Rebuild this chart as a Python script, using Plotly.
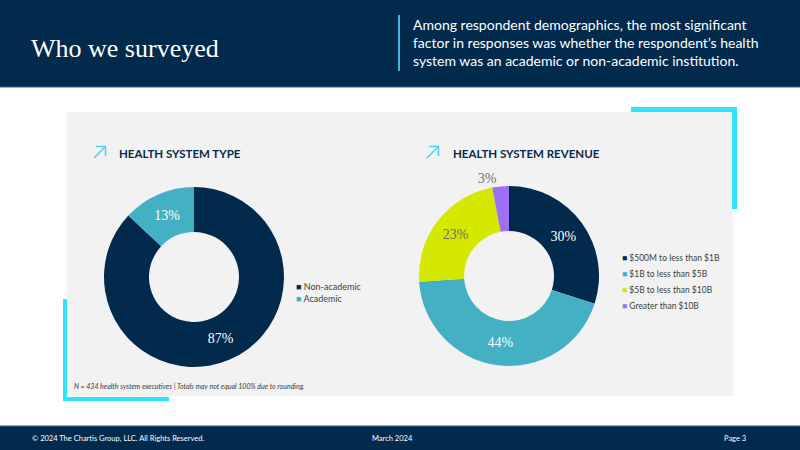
import plotly.graph_objects as go

# ---- data ----
type_labels = ["Non-academic", "Academic"]
type_values = [87, 13]
type_colors = ["#022a4c", "#43b0c4"]
type_text_colors = ["#ffffff", "#ffffff"]

rev_labels = ["$500M to less than $1B", "$1B to less than $5B", "$5B to less than $10B", "Greater than $10B"]
rev_values = [30, 44, 23, 3]
rev_colors = ["#022a4c", "#43b0c4", "#d4e800", "#a070f4"]
rev_text_colors = ["#ffffff", "#ffffff", "#6f6f6f", "#6f6f6f"]
rev_text_pos = ["inside", "inside", "inside", "outside"]

W, H = 800, 450
def px(x): return x / W
def py(y): return 1 - y / H

NAVY = "#012a4d"
CYAN = "#2ee5f7"
SANS = "Lato, 'Open Sans', sans-serif"
SERIF = "'Liberation Serif', 'DejaVu Serif', serif"

fig = go.Figure()

fig.add_trace(go.Pie(
    labels=type_labels, values=type_values, hole=0.5, sort=False,
    direction="clockwise", rotation=0,
    marker=dict(colors=type_colors, line=dict(width=0)),
    texttemplate="%{value}%", textposition="inside",
    insidetextorientation="horizontal",
    textfont=dict(family=SERIF, size=14, color=type_text_colors),
    domain=dict(x=[px(104), px(284)], y=[py(367), py(187)]),
    showlegend=False, hoverinfo="label+value",
))

fig.add_trace(go.Pie(
    labels=rev_labels, values=rev_values, hole=0.5, sort=False,
    direction="clockwise", rotation=0,
    marker=dict(colors=rev_colors, line=dict(width=0)),
    texttemplate="%{value}%", textposition=rev_text_pos,
    insidetextorientation="horizontal",
    textfont=dict(family=SERIF, size=14, color=rev_text_colors),
    domain=dict(x=[px(419), px(599)], y=[py(366), py(186)]),
    showlegend=False, hoverinfo="label+value",
))

shapes = []
# header / footer bands
shapes.append(dict(type="rect", xref="paper", yref="paper", x0=0, x1=1, y0=py(87), y1=1,
                   fillcolor=NAVY, line=dict(width=0), layer="below"))
shapes.append(dict(type="line", xref="paper", yref="paper", x0=0, x1=1, y0=py(87), y1=py(87),
                   line=dict(color="#3d5f80", width=1), layer="below"))
shapes.append(dict(type="rect", xref="paper", yref="paper", x0=0, x1=1, y0=0, y1=py(426),
                   fillcolor=NAVY, line=dict(width=0), layer="below"))
shapes.append(dict(type="line", xref="paper", yref="paper", x0=0, x1=1, y0=py(426), y1=py(426),
                   line=dict(color="#3d5f80", width=1), layer="below"))
# header divider
shapes.append(dict(type="line", xref="paper", yref="paper", x0=px(399), x1=px(399), y0=py(15), y1=py(71),
                   line=dict(color="#43b3d6", width=2), layer="below"))
# gray panel
shapes.append(dict(type="rect", xref="paper", yref="paper", x0=px(67), x1=px(733), y0=py(396), y1=py(112),
                   fillcolor="#f2f2f2", line=dict(width=0), layer="below"))
# cyan accents
shapes.append(dict(type="rect", xref="paper", yref="paper", x0=px(631), x1=px(737), y0=py(112), y1=py(107),
                   fillcolor=CYAN, line=dict(width=0), layer="below"))
shapes.append(dict(type="rect", xref="paper", yref="paper", x0=px(732), x1=px(737), y0=py(209), y1=py(107),
                   fillcolor=CYAN, line=dict(width=0), layer="below"))
shapes.append(dict(type="rect", xref="paper", yref="paper", x0=px(63), x1=px(67), y0=py(401), y1=py(299),
                   fillcolor=CYAN, line=dict(width=0), layer="below"))
shapes.append(dict(type="rect", xref="paper", yref="paper", x0=px(63), x1=px(169), y0=py(401), y1=py(397),
                   fillcolor=CYAN, line=dict(width=0), layer="below"))
# arrow icons
for dx in (0, 333):
    for (xa, ya, xb, yb) in [(94, 158, 105.5, 146.5), (96, 146.5, 106, 146.5), (105.5, 146, 105.5, 156)]:
        shapes.append(dict(type="line", xref="paper", yref="paper",
                           x0=px(xa + dx), y0=py(ya), x1=px(xb + dx), y1=py(yb),
                           line=dict(color="#45d4ea", width=1.5)))

ann = []
def text(x, y, s, size, color, family=SANS, xanchor="left", yanchor="middle", align="left"):
    ann.append(dict(xref="paper", yref="paper", x=px(x), y=py(y), text=s, showarrow=False,
                    xanchor=xanchor, yanchor=yanchor, align=align,
                    font=dict(family=family, size=size, color=color)))

text(29, 48, "Who we surveyed", 26, "#ffffff", family=SERIF)
text(411, 42, "Among respondent demographics, the most significant<br>"
              "factor in responses was whether the respondent\u2019s health<br>"
              "system was an academic or non-academic institution.", 14, "#ffffff")
text(117, 153, "<b>HEALTH SYSTEM TYPE</b>", 11.5, "#0b2a4a")
text(451, 153, "<b>HEALTH SYSTEM REVENUE</b>", 11.5, "#0b2a4a")
text(72, 386, "<i>N = 434 health system executives | Totals may not equal 100% due to rounding.</i>", 7, "#404040")
text(30, 438, "\u00a9 2024 The Chartis Group, LLC. All Rights Reserved.", 7.5, "#ffffff")
text(392, 438, "March 2024", 7.5, "#ffffff", xanchor="center")
text(748, 438, "Page 3", 7.5, "#ffffff", xanchor="right")

# legends
for i, (lab, col) in enumerate(zip(type_labels, type_colors)):
    text(294, 286 + 12 * i, f"<span style='color:{col}'>\u25a0</span> {lab}", 9, "#404040")
for i, (lab, col) in enumerate(zip(rev_labels, rev_colors)):
    text(620, 258 + 16 * i, f"<span style='color:{col}'>\u25a0</span> {lab}", 8.5, "#404040")

fig.update_layout(
    width=W, height=H, margin=dict(l=0, r=0, t=0, b=0),
    paper_bgcolor="#ffffff", plot_bgcolor="#ffffff",
    shapes=shapes, annotations=ann,
)

fig.write_html("out.html")
